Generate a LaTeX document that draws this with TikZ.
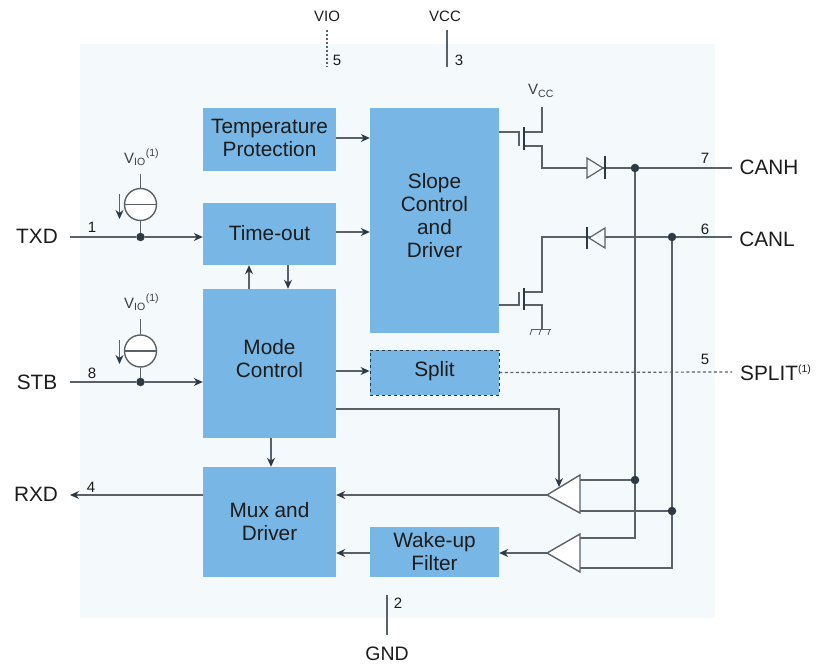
\documentclass[tikz,border=0pt]{standalone}
\usepackage{fontspec}
\setmainfont{Liberation Sans}
\usetikzlibrary{arrows.meta}
\definecolor{bluebox}{HTML}{78B7E5}
\definecolor{panel}{HTML}{F4F9FB}
\definecolor{wire}{HTML}{5A6167}
\definecolor{darkdot}{HTML}{2B3A45}
\definecolor{ink}{HTML}{1C1C1C}
\tikzset{
  block/.style={fill=bluebox,inner sep=0pt},
  blocktext/.style={inner sep=0pt,align=center,text=ink,font=\fontsize{20.8}{23}\selectfont},
  wireline/.style={draw=wire,line width=1.2pt},
  arrowline/.style={wireline,-{Stealth[length=9pt,width=8pt,color=darkdot]}},
  dot/.style={circle,fill=darkdot,inner sep=0pt,minimum size=8.5pt},
  pinname/.style={inner sep=0pt,text=ink,font=\fontsize{20.8}{24}\selectfont},
  pinnum/.style={inner sep=0pt,text=ink,font=\fontsize{15}{16}\selectfont},
  small/.style={inner sep=0pt,text=ink!85,font=\fontsize{15}{18}\selectfont},
  thickbar/.style={draw=darkdot,line width=2.8pt},
  compar/.style={draw=wire,fill=white,line width=1.4pt,line join=miter},
  diodetri/.style={draw=wire,fill=panel,line width=1.2pt},
  csource/.style={circle,draw=wire,fill=white,line width=1.4pt,minimum size=32pt,inner sep=0pt}
}
\begin{document}
\begin{tikzpicture}[x=1pt,y=-1pt]
\useasboundingbox (0,0) rectangle (816,668);
\fill[panel] (80,44) rectangle (715,618);

% blocks
\node[block,minimum width=133pt,minimum height=63pt,label={[blocktext,yshift=2pt]center:Temperature\\Protection}] (temp) at (269.5,139.5) {};
\node[block,minimum width=133pt,minimum height=62pt,label={[blocktext,yshift=1pt]center:Time-out}] (timeout) at (269.5,234) {};
\node[block,minimum width=133pt,minimum height=149pt,label={[blocktext,yshift=4.5pt]center:Mode\\Control}] (mode) at (269.5,363.5) {};
\node[block,minimum width=133pt,minimum height=110pt,label={[blocktext]center:Mux and\\Driver}] (mux) at (269.5,522) {};
\node[block,minimum width=129pt,minimum height=225pt,label={[blocktext,yshift=4.5pt]center:Slope\\Control\\and\\Driver}] (slope) at (434.5,220.5) {};
\node[block,minimum width=129pt,minimum height=45pt,draw=darkdot,dashed,line width=0.9pt,label={[blocktext,yshift=1pt]center:Split}] (split) at (434.5,372.5) {};
\node[block,minimum width=129pt,minimum height=50pt,label={[blocktext]center:Wake-up\\Filter}] (wake) at (434.5,552) {};

% pin names
\node[pinname] (txd) at (37,236) {TXD};
\node[pinname] (stb) at (37,382) {STB};
\node[pinname] (rxd) at (36,494) {RXD};
\node[pinname] (canh) at (769,167) {CANH};
\node[pinname] (canl) at (767,239) {CANL};
\node[pinname,anchor=west] (splitpin) at (740,373) {SPLIT\textsuperscript{\fontsize{10.5}{12}\selectfont(1)}};
\node[inner sep=0pt,text=ink,font=\fontsize{15}{18}\selectfont] (vio) at (327,16) {VIO};
\node[inner sep=0pt,text=ink,font=\fontsize{15}{18}\selectfont] (vcc) at (445,16) {VCC};
\node[pinname,font=\fontsize{19.5}{20}\selectfont] (gnd) at (387,654) {GND};

% pin numbers
\node[pinnum] (n5a) at (337,60) {5};
\node[pinnum] (n3) at (459,60) {3};
\node[pinnum] (n2) at (398,603) {2};
\node[pinnum] (n1) at (92,227) {1};
\node[pinnum] (n8) at (92,373) {8};
\node[pinnum] (n4) at (91,487) {4};
\node[pinnum] (n7) at (705,158) {7};
\node[pinnum] (n6) at (705,229) {6};
\node[pinnum] (n5b) at (705,359) {5};

% free wire ends
\coordinate (vioT) at (327,30); \coordinate (vioB) at (327,67);
\coordinate (vccT) at (447,30); \coordinate (vccB) at (447,67);
\coordinate (gndT) at (387,595); \coordinate (gndB) at (387,635);
\coordinate (txdR) at (70,237); \coordinate (stbR) at (70,382); \coordinate (rxdR) at (70,495);
\coordinate (canhL) at (732,168); \coordinate (canlL) at (732,237); \coordinate (splitL) at (732,372);

\draw[wireline,dashed,dash pattern=on 2pt off 2pt] (vioT) -- (vioB);
\draw[wireline] (vccT) -- (vccB);
\draw[wireline] (gndT) -- (gndB);

% dots
\node[dot] (dTxd) at (140.5,237) {};
\node[dot] (dStb) at (140.5,382) {};
\node[dot] (dH) at (635,168) {};
\node[dot] (dL) at (672,237) {};
\node[dot] (dH2) at (635,480) {};
\node[dot] (dL2) at (672,511) {};

% block connectors
\draw[arrowline] (temp.east |- 0,138) -- (slope.west |- 0,138);
\draw[arrowline] (timeout.east |- 0,232) -- (slope.west |- 0,232);
\draw[wireline] (txdR) -- (dTxd);
\draw[arrowline] (dTxd) -- (timeout.west |- dTxd);
\draw[wireline] (stbR) -- (dStb);
\draw[arrowline] (dStb) -- (mode.west |- dStb);
\draw[arrowline] (mode.north -| 249,0) -- (timeout.south -| 249,0);
\draw[arrowline] (timeout.south -| 288,0) -- (mode.north -| 288,0);
\draw[arrowline] (mode.east |- 0,371) -- (split.west |- 0,371);
\draw[arrowline] (mode.south -| 271,0) -- (mux.north -| 271,0);
\draw[wireline,dashed,dash pattern=on 3pt off 2.5pt] (split.east) -- (splitL);
\draw[arrowline] (mux.west |- rxdR) -- (rxdR);

% comparators
\coordinate (c1a) at (547,495); \coordinate (c1t) at (580,475); \coordinate (c1b) at (580,513);
\coordinate (c2a) at (547,553); \coordinate (c2t) at (580,534); \coordinate (c2b) at (580,572);
\draw[wireline] (c1t |- dH2) -- (dH2);
\draw[wireline] (c1t |- dL2) -- (dL2);
\draw[wireline] (dH) -- (dH2);
\draw[wireline] (dH2) -- (635,538) -- (c2t |- 0,538);
\draw[wireline] (dL) -- (dL2);
\draw[wireline] (dL2) -- (672,568) -- (c2t |- 0,568);
\draw[wireline] (dH) -- (canhL);
\draw[wireline] (dL) -- (canlL);
\draw[compar] (c1a) -- (c1t) -- (c1b) -- cycle;
\draw[compar] (c2a) -- (c2t) -- (c2b) -- cycle;
\draw[arrowline] (mode.east |- 0,409) -- (559,409) -- (559,487);
\draw[arrowline] (c1a) -- (mux.east |- c1a);
\draw[arrowline] (c2a) -- (wake.east |- c2a);
\draw[arrowline] (wake.west |- 0,553) -- (mux.east |- 0,553);

% current sources
\node[csource] (cs1) at (140.5,204.5) {};
\node[csource] (cs2) at (140.5,351) {};
\draw[wireline] (cs1.west) -- (cs1.east);
\draw[wireline] (cs2.west) -- (cs2.east);
\node[small,anchor=south west] (v1) at (124,166) {V\textsubscript{\fontsize{10.5}{12}\selectfont IO}\raisebox{7pt}{\fontsize{10.5}{12}\selectfont(1)}};
\node[small,anchor=south west] (v2) at (124,311) {V\textsubscript{\fontsize{10.5}{12}\selectfont IO}\raisebox{7pt}{\fontsize{10.5}{12}\selectfont(1)}};
\coordinate (t1) at (140.5,174); \coordinate (t2) at (140.5,319);
\draw[wireline] (t1) -- (cs1.north);
\draw[wireline] (t2) -- (cs2.north);
\draw[wireline] (cs1.south) -- (dTxd);
\draw[wireline] (cs2.south) -- (dStb);
\coordinate (ia1) at (119.5,194); \coordinate (ib1) at (119.5,219);
\coordinate (ia2) at (119.5,340); \coordinate (ib2) at (119.5,364);
\draw[arrowline] (ia1) -- (ib1);
\draw[arrowline] (ia2) -- (ib2);

% upper transistor
\node[small,anchor=south west] (vccl) at (528,97.5) {V\textsubscript{\fontsize{10.5}{12}\selectfont CC}};
\coordinate (uV) at (542,107);
\coordinate (uD) at (542,132); \coordinate (uS) at (542,146);
\coordinate (uGa) at (519,132); \coordinate (uGb) at (519,146);
\coordinate (uCa) at (524,127); \coordinate (uCb) at (524,150);
\draw[wireline] (slope.east |- uGa) -- (uGa) -- (uGb);
\draw[wireline] (uCa |- uD) -- (uD) -- (uV);
\draw[wireline] (uCa |- uS) -- (uS) -- (542,168) -- (dH);
\draw[thickbar] (uCa) -- (uCb);
% lower transistor
\coordinate (lD) at (542,292); \coordinate (lS) at (542,305);
\coordinate (lGa) at (519,305); \coordinate (lGb) at (519,292);
\coordinate (lCa) at (524,288); \coordinate (lCb) at (524,310);
\coordinate (gr) at (542,329);
\draw[wireline] (slope.east |- lGa) -- (lGa) -- (lGb);
\draw[wireline] (lCa |- lD) -- (lD) -- (542,237) -- (dL);
\draw[wireline] (lCa |- lS) -- (lS) -- (gr);
\draw[thickbar] (lCa) -- (lCb);
% ground
\draw[wireline,line width=0.9pt] (531,329) -- (551,329);
\draw[wireline,line width=0.9pt] (532,329) -- (530,335);
\draw[wireline,line width=0.9pt] (541,329) -- (539,335);
\draw[wireline,line width=0.9pt] (550,329) -- (548,335);
% diodes
\coordinate (d1a) at (587,158); \coordinate (d1b) at (587,178); \coordinate (d1c) at (603,168);
\draw[diodetri] (d1a) -- (d1b) -- (d1c) -- cycle;
\draw[thickbar] (605,156) -- (605,179);
\coordinate (d2a) at (605,228); \coordinate (d2b) at (605,248); \coordinate (d2c) at (589,238);
\draw[diodetri] (d2a) -- (d2b) -- (d2c) -- cycle;
\draw[thickbar] (587,227) -- (587,249);
\end{tikzpicture}
\end{document}
